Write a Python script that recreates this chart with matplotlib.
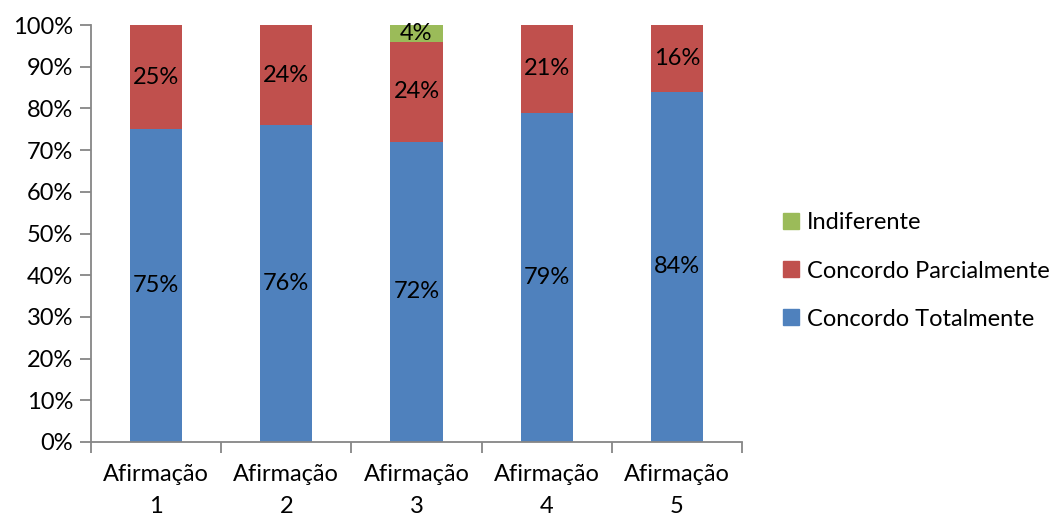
import matplotlib
matplotlib.use("Agg")
import matplotlib.pyplot as plt
from matplotlib.patches import Patch
import numpy as np

categories = ["Afirmação\n1", "Afirmação\n2", "Afirmação\n3", "Afirmação\n4", "Afirmação\n5"]
totalmente = [75, 76, 72, 79, 84]
parcialmente = [25, 24, 24, 21, 16]
indiferente = [0, 0, 4, 0, 0]
series_names = ["Concordo Totalmente", "Concordo Parcialmente", "Indiferente"]
colors = ["#4F81BD", "#C0504D", "#9BBB59"]

plt.rcParams['font.family'] = ['Lato', 'DejaVu Sans']
FS = 17
axis_col = "#868686"

fig = plt.figure(figsize=(10.61, 5.16), dpi=100)
ax = fig.add_axes([91/1061, (516-442)/516, 651/1061, 417/516])

x = np.arange(len(categories))
w = 0.4
bottom = np.zeros(len(categories))
for vals, col, name in zip([totalmente, parcialmente, indiferente], colors, series_names):
    vals = np.array(vals, dtype=float)
    ax.bar(x, vals, w, bottom=bottom, color=col, label=name, zorder=2)
    for xi, v, b in zip(x, vals, bottom):
        if v > 0:
            ax.text(xi, b + v / 2, f"{int(v)}%", ha="center", va="center",
                    fontsize=FS, color="black", zorder=3)
    bottom += vals

ax.set_xlim(-0.5, len(categories) - 0.5)
ax.set_ylim(0, 100)
ax.set_yticks(np.arange(0, 101, 10))
ax.set_yticklabels([f"{v}%" for v in range(0, 101, 10)], fontsize=FS)
ax.set_xticks(x)
ax.set_xticklabels(categories, fontsize=FS, linespacing=1.62)
ax.set_xticks(np.arange(-0.5, len(categories)), minor=True)
ax.tick_params(axis="x", which="major", length=0, pad=16)
ax.tick_params(axis="x", which="minor", length=8, width=1.3, color=axis_col, direction="out")
ax.tick_params(axis="y", length=8, width=1.3, color=axis_col, direction="out", pad=5)

for s in ["top", "right"]:
    ax.spines[s].set_visible(False)
for s in ["left", "bottom"]:
    ax.spines[s].set_color(axis_col)
    ax.spines[s].set_linewidth(1.3)

handles = [Patch(color=colors[2]), Patch(color=colors[1]), Patch(color=colors[0])]
labels = [series_names[2], series_names[1], series_names[0]]
fig.legend(handles, labels, loc="center left", bbox_to_anchor=(774/1061, 1 - 271/516),
           frameon=False, fontsize=FS, handlelength=0.65, handleheight=0.65,
           handletextpad=0.35, labelspacing=1.15, borderaxespad=0)

fig.savefig("out.png", dpi=100)
